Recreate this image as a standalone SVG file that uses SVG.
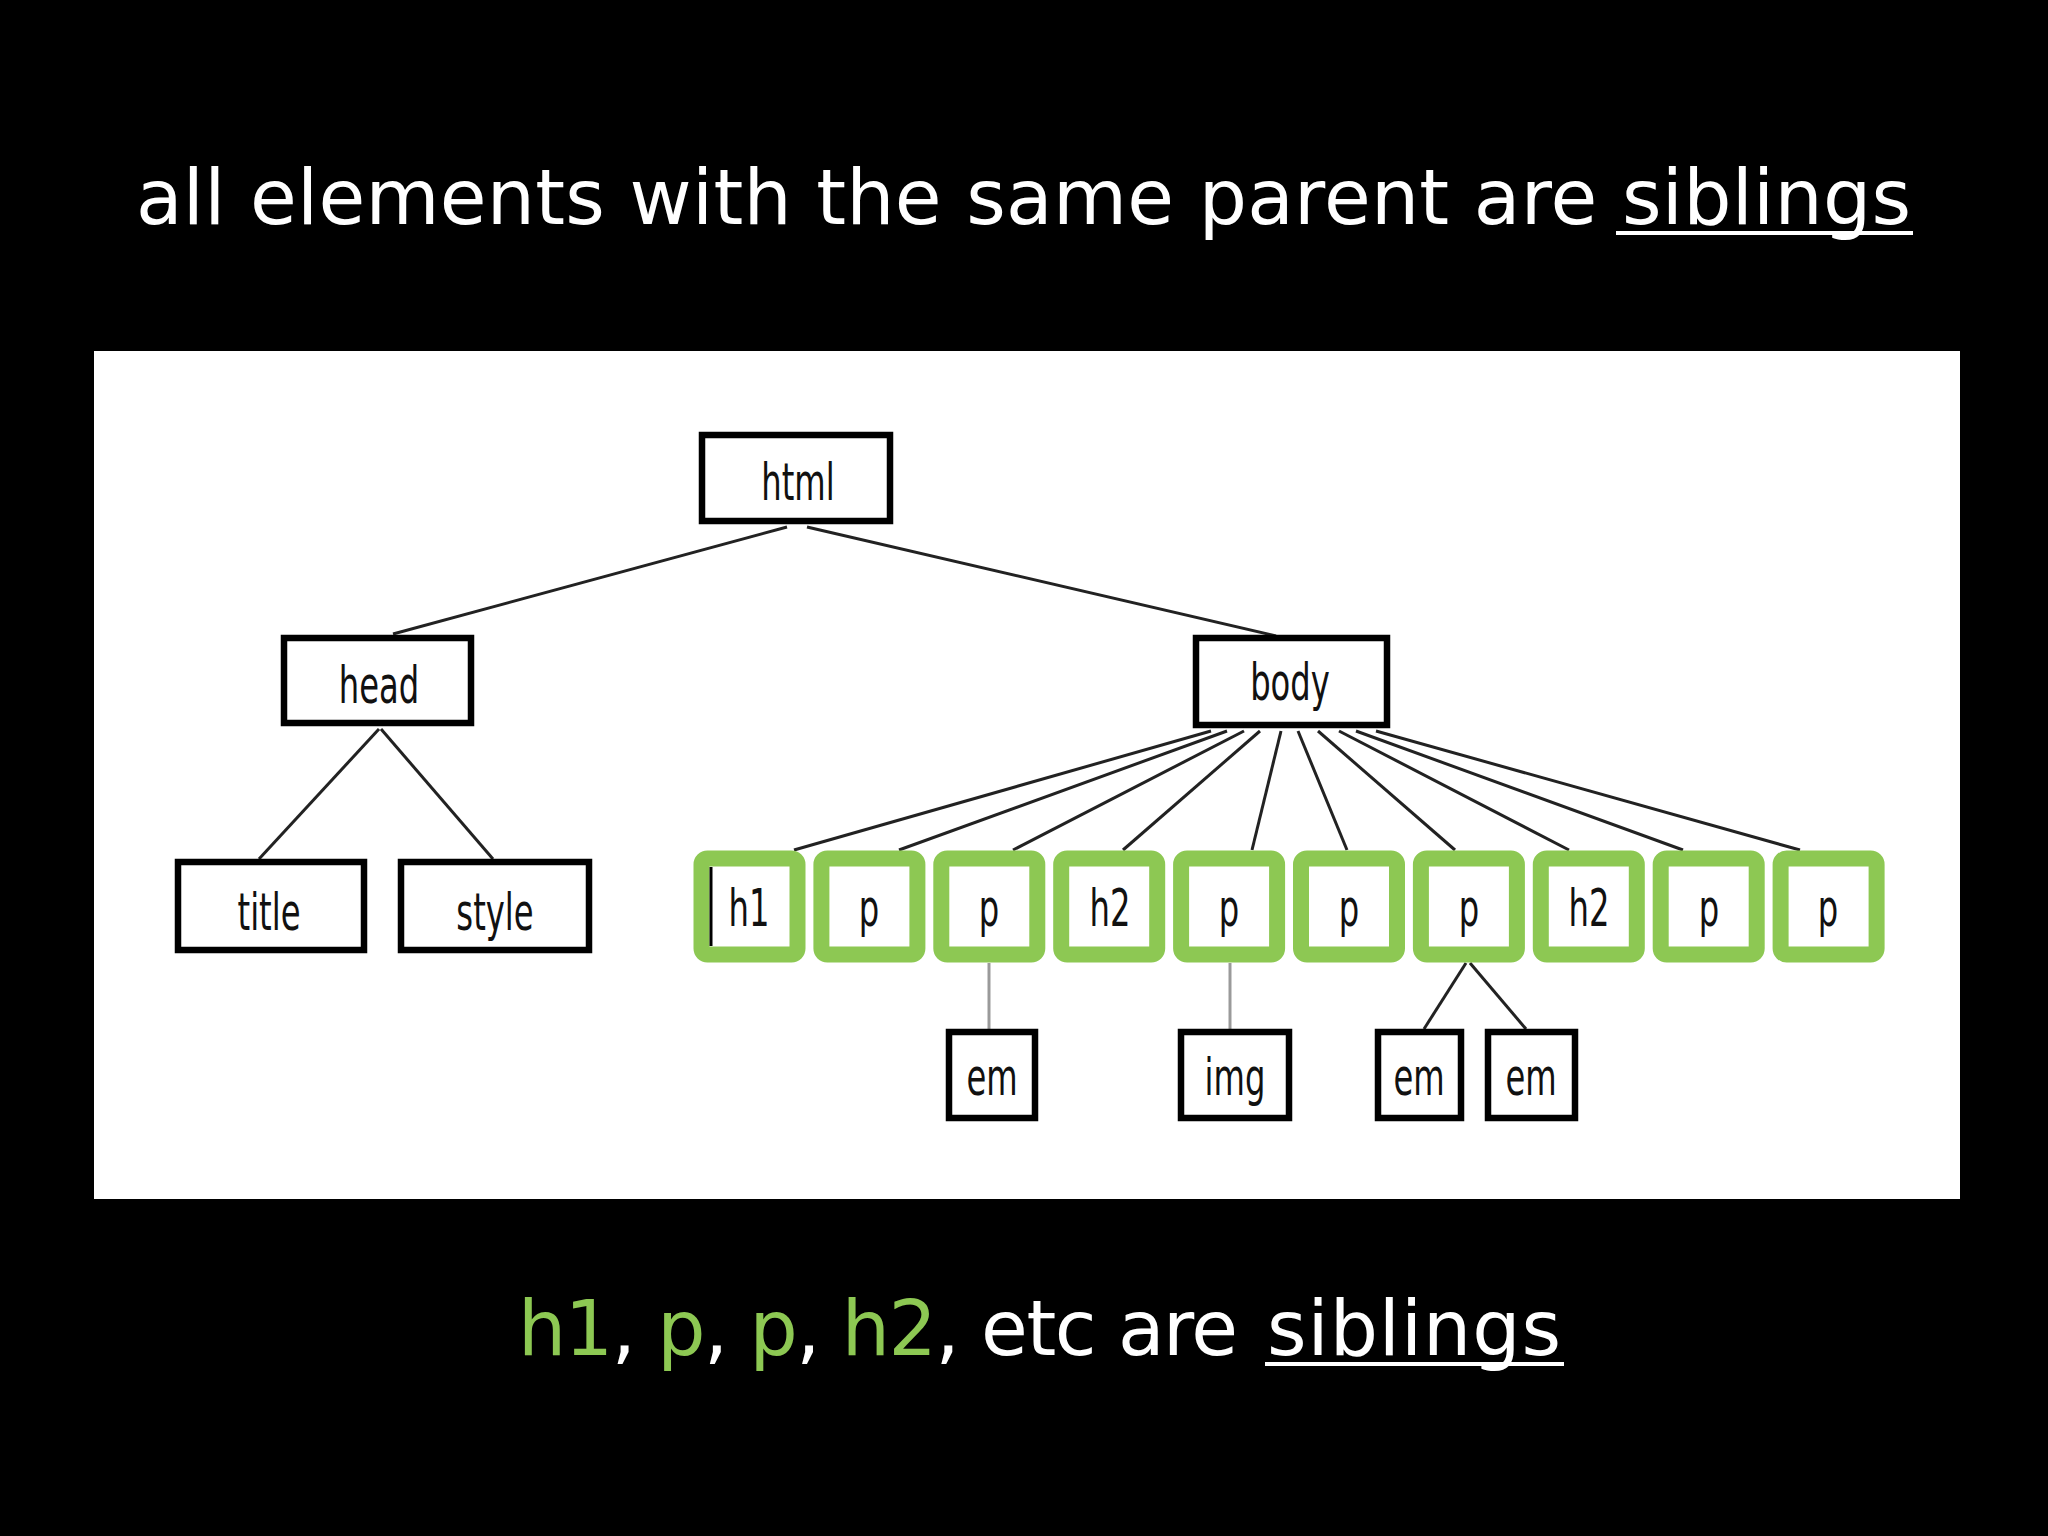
<svg xmlns="http://www.w3.org/2000/svg" width="2048" height="1536" viewBox="0 0 2048 1536">
<defs>
<style>
.cap{font-family:"DejaVu Sans","Verdana",sans-serif;font-size:76px;fill:#ffffff}
.grn{fill:#8dc853}
.box{fill:#ffffff;stroke:#000000;stroke-width:6.5}
.gbox{fill:#ffffff;stroke:#8dc853;stroke-width:16}
.lbl{font-family:"DejaVu Sans",sans-serif;font-size:52px;fill:#111111;text-anchor:middle}
.ln{stroke:#222222;stroke-width:3;fill:none}
.gl{stroke:#9a9a9a;stroke-width:3;fill:none}
</style>
</defs>
<rect x="0" y="0" width="2048" height="1536" fill="#000000"/>
<text class="cap" x="136" y="224" textLength="1775" lengthAdjust="spacing">all elements with the same parent are siblings</text>
<rect x="1616" y="231" width="297" height="4" fill="#ffffff"/>
<rect x="94" y="351" width="1866" height="848" fill="#ffffff"/>
<g id="connectors">
<line class="ln" x1="787" y1="527" x2="393" y2="634"/>
<line class="ln" x1="807" y1="527" x2="1276" y2="636"/>
<line class="ln" x1="379" y1="729" x2="259" y2="859"/>
<line class="ln" x1="381" y1="729" x2="493" y2="859"/>
<line class="ln" x1="1211" y1="731" x2="794" y2="850"/>
<line class="ln" x1="1227" y1="731" x2="899" y2="850"/>
<line class="ln" x1="1244" y1="731" x2="1013" y2="850"/>
<line class="ln" x1="1260" y1="731" x2="1123" y2="850"/>
<line class="ln" x1="1281" y1="731" x2="1252" y2="850"/>
<line class="ln" x1="1298" y1="731" x2="1347" y2="850"/>
<line class="ln" x1="1318" y1="731" x2="1455" y2="850"/>
<line class="ln" x1="1339" y1="731" x2="1569" y2="850"/>
<line class="ln" x1="1356" y1="731" x2="1683" y2="850"/>
<line class="ln" x1="1376" y1="731" x2="1800" y2="850"/>
<line class="gl" x1="989" y1="963" x2="989" y2="1029"/>
<line class="gl" x1="1230" y1="963" x2="1230" y2="1029"/>
<line class="ln" x1="1466" y1="963" x2="1424" y2="1029"/>
<line class="ln" x1="1470" y1="963" x2="1526" y2="1029"/>
</g>
<g id="n-html"><rect class="box" x="702" y="435" width="188" height="86"/><text class="lbl" transform="translate(798,500) scale(0.62,1)">html</text></g>
<g id="n-head"><rect class="box" x="284" y="638" width="187" height="85"/><text class="lbl" transform="translate(379,703) scale(0.62,1)">head</text></g>
<g id="n-body"><rect class="box" x="1196" y="638" width="191" height="87"/><text class="lbl" transform="translate(1290,700) scale(0.62,1)">body</text></g>
<g id="n-title"><rect class="box" x="178" y="862" width="186" height="88"/><text class="lbl" transform="translate(269,930) scale(0.62,1)">title</text></g>
<g id="n-style"><rect class="box" x="401" y="862" width="188" height="88"/><text class="lbl" transform="translate(495,930) scale(0.62,1)">style</text></g>
<g id="n-h1"><rect class="gbox" x="701.5" y="858.5" width="96" height="96" rx="6"/><line x1="711" y1="867" x2="711" y2="946" stroke="#000" stroke-width="3"/><text class="lbl" transform="translate(749,926) scale(0.62,1)">h1</text></g>
<g id="n-p1"><rect class="gbox" x="821.4" y="858.5" width="96" height="96" rx="6"/><text class="lbl" transform="translate(869,926) scale(0.62,1)">p</text></g>
<g id="n-p2"><rect class="gbox" x="941.3" y="858.5" width="96" height="96" rx="6"/><text class="lbl" transform="translate(989,926) scale(0.62,1)">p</text></g>
<g id="n-h2a"><rect class="gbox" x="1061.2" y="858.5" width="96" height="96" rx="6"/><text class="lbl" transform="translate(1110,926) scale(0.62,1)">h2</text></g>
<g id="n-p3"><rect class="gbox" x="1181.1" y="858.5" width="96" height="96" rx="6"/><text class="lbl" transform="translate(1229,926) scale(0.62,1)">p</text></g>
<g id="n-p4"><rect class="gbox" x="1301" y="858.5" width="96" height="96" rx="6"/><text class="lbl" transform="translate(1349,926) scale(0.62,1)">p</text></g>
<g id="n-p5"><rect class="gbox" x="1420.9" y="858.5" width="96" height="96" rx="6"/><text class="lbl" transform="translate(1469,926) scale(0.62,1)">p</text></g>
<g id="n-h2b"><rect class="gbox" x="1540.8" y="858.5" width="96" height="96" rx="6"/><text class="lbl" transform="translate(1589,926) scale(0.62,1)">h2</text></g>
<g id="n-p6"><rect class="gbox" x="1660.7" y="858.5" width="96" height="96" rx="6"/><text class="lbl" transform="translate(1709,926) scale(0.62,1)">p</text></g>
<g id="n-p7"><rect class="gbox" x="1780.6" y="858.5" width="96" height="96" rx="6"/><text class="lbl" transform="translate(1828,926) scale(0.62,1)">p</text></g>
<g id="n-em1"><rect class="box" x="949" y="1032" width="86" height="86"/><text class="lbl" transform="translate(992,1095) scale(0.62,1)">em</text></g>
<g id="n-img"><rect class="box" x="1181" y="1032" width="108" height="86"/><text class="lbl" transform="translate(1235,1095) scale(0.62,1)">img</text></g>
<g id="n-em2"><rect class="box" x="1378" y="1032" width="83" height="86"/><text class="lbl" transform="translate(1419,1095) scale(0.62,1)">em</text></g>
<g id="n-em3"><rect class="box" x="1488" y="1032" width="87" height="86"/><text class="lbl" transform="translate(1531,1095) scale(0.62,1)">em</text></g>
<text class="cap" x="518" y="1355" textLength="720" lengthAdjust="spacing"><tspan class="grn">h1</tspan>, <tspan class="grn">p</tspan>, <tspan class="grn">p</tspan>, <tspan class="grn">h2</tspan>, etc are</text>
<text class="cap" x="1267" y="1355" textLength="294" lengthAdjust="spacing">siblings</text>
<rect x="1265" y="1362" width="299" height="4" fill="#ffffff"/>
</svg>
